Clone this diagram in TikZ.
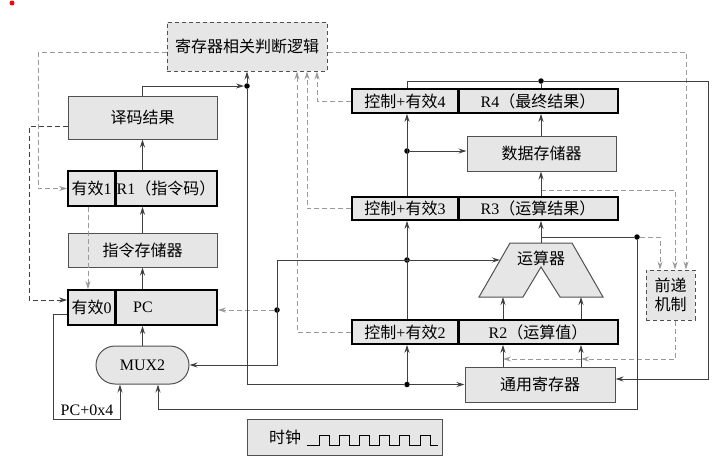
\documentclass[tikz,border=0pt]{standalone}
\usepackage{fontspec}
\setmainfont{Liberation Serif}
\newfontfamily\cjk{Noto Sans CJK SC}
\newcommand\zh[1]{{\cjk #1}}
\usetikzlibrary{arrows.meta,shapes.misc}
\definecolor{fillgray}{HTML}{E6E6E6}
\definecolor{edgegray}{HTML}{505050}
\definecolor{wiregray}{HTML}{404040}
\definecolor{dashgray}{HTML}{9A9A9A}
\tikzset{
  gbox/.style={draw=edgegray,fill=fillgray,line width=1pt,inner sep=0pt},
  dbox/.style={gbox,dash pattern=on 4pt off 3pt},
  regcell/.style={draw=black,fill=fillgray,line width=1.6pt,inner sep=0pt},
  wire/.style={draw=wiregray,line width=1pt},
  wirearrow/.style={wire,-{Stealth[length=8pt,width=5pt]}},
  darr/.style={draw=dashgray,line width=1pt,dash pattern=on 5pt off 3pt,-{Stealth[length=8pt,width=5pt]}},
  darkdash/.style={darr,draw=wiregray},
  jdot/.style={circle,fill=black,inner sep=0pt,minimum size=5.5pt},
}
\begin{document}
\begin{tikzpicture}[x=1pt,y=-1pt,font=\fontsize{16}{19}\selectfont]
\useasboundingbox (0,0) rectangle (727,464);
\fill[red] (12,3) circle (2.5pt);
\node[dbox,minimum width=160pt,minimum height=49pt] (logic) at (247,46.5) {\zh{寄存器相关判断逻辑}};
\node[gbox,minimum width=149pt,minimum height=43pt] (decode) at (142.5,117.5) {\zh{译码结果}};
\node[regcell,minimum width=47pt,minimum height=35pt] (v1) at (91.5,188.5) {\zh{有效}1};
\node[regcell,minimum width=102pt,minimum height=35pt] (r1) at (166,188.5) {R1\zh{（指令码）}};
\node[gbox,minimum width=149pt,minimum height=34pt] (imem) at (142.5,250) {\zh{指令存储器}};
\node[regcell,minimum width=47pt,minimum height=35pt] (v0) at (91.5,307.5) {\zh{有效}0};
\node[regcell,minimum width=102pt,minimum height=35pt] (pc) at (166,307.5) {};
\node (pclabel) at (143,307.5) {PC};
\draw[line width=3pt] (v1.north east) -- (v1.south east);
\draw[line width=3pt] (v0.north east) -- (v0.south east);
\node[gbox,rounded rectangle,minimum width=93pt,minimum height=38pt] (mux) at (142.5,365) {MUX2};
\node (pcinc) at (87,410) {PC+0x4};

\node[regcell,minimum width=106pt,minimum height=24pt] (c4) at (405,101) {\zh{控制}+\zh{有效}4};
\node[regcell,minimum width=160pt,minimum height=24pt] (r4) at (538,101) {R4\zh{（最终结果）}};
\node[regcell,minimum width=106pt,minimum height=23pt] (c3) at (405,208.5) {\zh{控制}+\zh{有效}3};
\node[regcell,minimum width=160pt,minimum height=23pt] (r3) at (538,208.5) {R3\zh{（运算结果）}};
\node[regcell,minimum width=106pt,minimum height=24pt] (c2) at (405,332) {\zh{控制}+\zh{有效}2};
\node[regcell,minimum width=160pt,minimum height=24pt] (r2) at (538,332) {R2\zh{（运算值）}};
\draw[line width=3pt] (c4.north east) -- (c4.south east);
\draw[line width=3pt] (c3.north east) -- (c3.south east);
\draw[line width=3pt] (c2.north east) -- (c2.south east);
\node[gbox,minimum width=149pt,minimum height=35pt] (dmem) at (541.5,153.5) {\zh{数据存储器}};
\draw[gbox] (510,243) -- (572,243) -- (603,297) -- (560,297) -- (541,267) -- (523,297) -- (479,297) -- cycle;
\node (alu) at (541,258) {\zh{运算器}};
\node[gbox,minimum width=150pt,minimum height=35pt] (gpr) at (540,384.5) {\zh{通用寄存器}};
\node[dbox,minimum width=49pt,minimum height=50pt,align=center] (fwd) at (670.5,295) {\zh{前递}\\\zh{机制}};
\node[gbox,minimum width=195pt,minimum height=36pt] (clock) at (344.5,437) {};
\node (clklabel) at (285,437) {\zh{时钟}};
\draw[black,line width=0.8pt] (307,445) \foreach \i in {0,...,5} { -- ({319+20.2*\i},445) -- ++(0,-10) -- ++(10,0) -- ++(0,10) } -- (438,445);

\coordinate (alutop) at (541,243);
\coordinate (aluin) at (500,260);
\coordinate (ina) at (503,297);
\coordinate (inb) at (581,297);
\coordinate (r3tap) at (541,190);
\coordinate (fwdrow) at (675,359);
\coordinate (selbend) at (277,260);
\node[jdot] (j1) at (247,86) {};
\node[jdot] (j2) at (407,384.5) {};
\node[jdot] (j3) at (407,260) {};
\node[jdot] (j4) at (277,310) {};
\node[jdot] (j5) at (637,237) {};
\node[jdot] (j6) at (541,81) {};
\node[jdot] (j7) at (407,151) {};

\draw[darr] ([yshift=-5.5pt]logic.west) -| (38,188.5) -- (v1.west);
\draw[darkdash] ([yshift=-8.5pt]decode.west) -| (29,300) -- ([yshift=7.5pt]v0.west);
\draw[darr] ([xshift=-3.5pt]v1.south) -- ([xshift=-3.5pt]v0.north);
\draw[darr] ([yshift=-5.5pt]logic.east) -| ([xshift=15.5pt]fwd.north);
\draw[darr] (c4.west) -| ([xshift=70pt]logic.south);
\draw[darr] (c3.west) -| ([xshift=60pt]logic.south);
\draw[darr] (c2.west) -| ([xshift=50pt]logic.south);
\draw[darr] (j4) -- (pc.east |- j4);
\draw[darr] (j5) -| ([xshift=-10.5pt]fwd.north);
\draw[darr] (r3tap) -| ([xshift=4.5pt]fwd.north);
\draw[darr] ([xshift=4.5pt]fwd.south) -- (fwdrow) -- (inb |- fwdrow);
\draw[darr] (inb |- fwdrow) -- (ina |- fwdrow);

\draw[wirearrow] (decode.north) |- (j1.west);
\draw[wirearrow] (j1) -- (logic.south);
\draw[wire] (j1) |- (j2);
\draw[wirearrow] (j2) -- (gpr.west);
\draw[wirearrow] (j2) -- (j2 |- c2.south);
\draw[wirearrow] (imem.north) -- (imem.north |- r1.south);
\draw[wirearrow] (decode.south |- r1.north) -- (decode.south);
\draw[wirearrow] (imem.south |- pc.north) -- (imem.south);
\draw[wirearrow] (mux.north) -- (mux.north |- pc.south);
\draw[wirearrow] ([yshift=-6.5pt]v0.west) -| (53,419) -| ([xshift=-22.5pt]mux.south);
\draw[wirearrow] (j5) |- (158,409) -- ([xshift=15.5pt]mux.south);
\draw[wirearrow] (alutop) -- (alutop |- r3.south);
\draw[wire] (alutop |- j5) -- (j5);
\draw[wirearrow] (r3.north -| alutop) -- (alutop |- dmem.south);
\draw[wirearrow] (dmem.north -| alutop) -- (alutop |- r4.south);
\draw[wire] (r4.north -| j6) -- (j6);
\draw[wire] (c4.north -| j7) |- (j6);
\draw[wirearrow] (j6) -- (708,81) |- ([yshift=5.5pt]gpr.east);
\draw[wirearrow] (j3 |- c2.north) -- (j3 |- c3.south);
\draw[wirearrow] (j3 |- c3.north) -- (j3 |- c4.south);
\draw[wirearrow] (j7) -- (dmem.west |- j7);
\draw[wirearrow] (selbend) -- (aluin);
\draw[wirearrow] (selbend) |- (mux.east);
\draw[wirearrow] (ina |- r2.north) -- (ina);
\draw[wirearrow] (inb |- r2.north) -- (inb);
\draw[wirearrow] (ina |- gpr.north) -- (ina |- r2.south);
\draw[wirearrow] (inb |- gpr.north) -- (inb |- r2.south);
\end{tikzpicture}
\end{document}
